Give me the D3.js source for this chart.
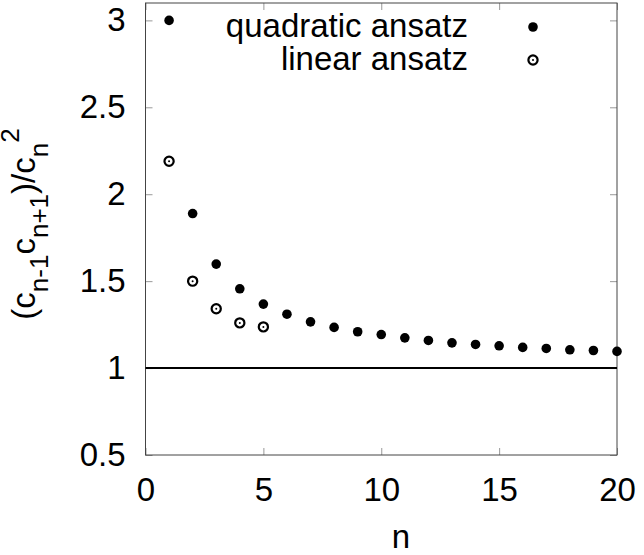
<!DOCTYPE html>
<meta charset="utf-8">
<script src="https://d3js.org/d3.v7.min.js"></script>
<style>
  body { margin: 0; background: #fff; }
  text { font-family: "Liberation Sans", Arial, sans-serif; }
</style>
<body>
<script>

// data
var nQuad = [1, 2, 3, 4, 5, 6, 7, 8, 9, 10, 11, 12, 13, 14, 15, 16, 17, 18, 19, 20];
var quadratic = [3.0, 1.889, 1.598, 1.456, 1.368, 1.310, 1.266, 1.234, 1.209, 1.193,
                 1.174, 1.159, 1.145, 1.136, 1.128, 1.119, 1.113, 1.105, 1.101, 1.096];
var nLin = [1, 2, 3, 4, 5];
var linear = [2.19, 1.50, 1.341, 1.260, 1.237];
var xTicks = [0, 5, 10, 15, 20];
var yTicks = [0.5, 1, 1.5, 2, 2.5, 3];
var legendLabels = ["quadratic ansatz", "linear ansatz"];

var width = 644,
    height = 555;

var svg = d3.select("body").append("svg")
    .attr("width", width)
    .attr("height", height);

var x = d3.scaleLinear().domain([0, 20]).range([145.5, 617]);
var y = d3.scaleLinear().domain([0.5, 3.1]).range([455, 3]);

var fontSize = 33;

// axes with inward ticks
var xAxis = svg.append("g")
    .attr("transform", "translate(0," + y(0.5) + ")")
    .call(d3.axisBottom(x).tickValues(xTicks).tickSizeInner(-7).tickSizeOuter(0).tickPadding(23));

var yAxis = svg.append("g")
    .attr("transform", "translate(" + x(0) + ",0)")
    .call(d3.axisLeft(y).tickValues(yTicks).tickFormat(d3.format("")).tickSizeInner(-7).tickSizeOuter(0).tickPadding(20));

// mirror ticks on top and right
var xTop = svg.append("g")
    .attr("transform", "translate(0," + y(3.1) + ")")
    .call(d3.axisTop(x).tickValues(xTicks).tickSizeInner(-7).tickSizeOuter(0).tickFormat(""));

var yRight = svg.append("g")
    .attr("transform", "translate(" + x(20) + ",0)")
    .call(d3.axisRight(y).tickValues(yTicks).tickSizeInner(-7).tickSizeOuter(0).tickFormat(""));

[xAxis, yAxis, xTop, yRight].forEach(function(g) {
    g.select(".domain").remove();
    g.selectAll(".tick line").attr("stroke", "#999");
    g.selectAll(".tick text")
        .attr("fill", "#000")
        .style("font-size", fontSize + "px")
        .style("font-family", "Liberation Sans, Arial, sans-serif");
});

// plot frame
svg.append("rect")
    .attr("x", x(0))
    .attr("y", y(3.1))
    .attr("width", x(20) - x(0))
    .attr("height", y(0.5) - y(3.1))
    .attr("fill", "none")
    .attr("stroke", "#444")
    .attr("stroke-width", 1);

// reference line at 1
svg.append("line")
    .attr("x1", x(0)).attr("x2", x(20))
    .attr("y1", y(1)).attr("y2", y(1))
    .attr("stroke", "#000")
    .attr("stroke-width", 2);

// quadratic ansatz points
svg.append("g").selectAll("circle")
    .data(nQuad)
    .enter().append("circle")
    .attr("cx", function(d) { return x(d); })
    .attr("cy", function(d, i) { return y(quadratic[i]); })
    .attr("r", 4.8)
    .attr("fill", "#000");

// linear ansatz points (ring with dot)
function ring(sel) {
    sel.append("circle")
        .attr("r", 4.6)
        .attr("fill", "#fff")
        .attr("stroke", "#000")
        .attr("stroke-width", 2.2);
    sel.append("circle")
        .attr("r", 1)
        .attr("fill", "#000");
}

svg.append("g").selectAll("g")
    .data(nLin)
    .enter().append("g")
    .attr("transform", function(d, i) { return "translate(" + x(d) + "," + y(linear[i]) + ")"; })
    .call(ring);

// legend
var legend = svg.append("g");
legendLabels.forEach(function(label, i) {
    var base = 37 + i * 33;
    legend.append("text")
        .attr("x", 468)
        .attr("y", base)
        .attr("text-anchor", "end")
        .style("font-size", fontSize + "px")
        .text(label);
    if (i === 0) {
        legend.append("circle")
            .attr("cx", 533).attr("cy", base - 10)
            .attr("r", 4.8).attr("fill", "#000");
    } else {
        legend.append("g")
            .attr("transform", "translate(533," + (base - 10) + ")")
            .call(ring);
    }
});

// x label
svg.append("text")
    .attr("x", 401)
    .attr("y", 548)
    .attr("text-anchor", "middle")
    .style("font-size", fontSize + "px")
    .text("n");

// y label with sub/superscripts
var ylab = svg.append("text")
    .attr("transform", "translate(35,224) rotate(-90)")
    .attr("text-anchor", "middle")
    .style("font-size", fontSize + "px");

var subSize = Math.round(fontSize * 0.8);
var parts = [
    { t: "(c", s: 0 },
    { t: "n-1", s: 1 },
    { t: "c", s: 0 },
    { t: "n+1", s: 1 },
    { t: ")/c", s: 0 },
    { t: "n", s: 1 },
    { t: "2", s: -1 }
];
var shift = 0;
parts.forEach(function(p) {
    var target = p.s === 1 ? 13 : (p.s === -1 ? -16 : 0);
    ylab.append("tspan")
        .attr("dy", target - shift)
        .style("font-size", (p.s === 0 ? fontSize : subSize) + "px")
        .text(p.t);
    shift = target;
});

</script>
</body>
